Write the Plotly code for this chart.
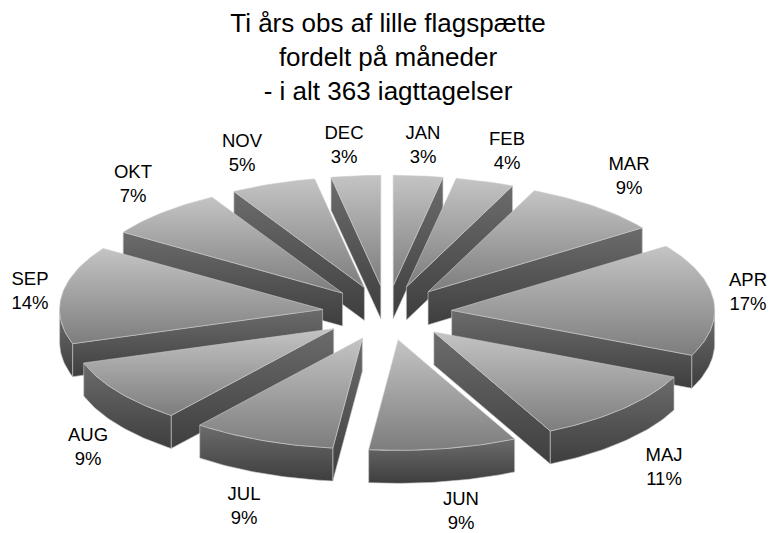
import math
import plotly.graph_objects as go

months = ["JAN", "FEB", "MAR", "APR", "MAJ", "JUN", "JUL", "AUG", "SEP", "OKT", "NOV", "DEC"]
counts = [11, 13, 31, 60, 40, 33, 32, 34, 52, 27, 19, 11]
title_lines = ["Ti års obs af lille flagspætte", "fordelt på måneder", "- i alt 363 iagttagelser"]

# label centres (pixels) - text placement only
label_x = [423, 507, 629, 748, 664, 461, 244, 88, 30, 133, 242, 344]
label_y = [146, 152, 177, 293, 468, 512, 507, 448, 292, 185, 154, 146]

# projection of the tilted pie onto the page (pixels)
CX, CY, RADIUS, EXPLODE, TILT, DEPTH = 387, 313, 263, 65, 0.42, 33
TOP_SCALE = [[0, "#7d7d7d"], [1, "#c4c4c4"]]
WALL_SCALE = [[0, "#3e3e3e"], [1, "#6c6c6c"]]
EDGE = "#c9c9c9"


def project(theta, r, off):
    return (CX + off[0] + r * math.sin(theta), CY + off[1] - r * TILT * math.cos(theta))


def face(pts, scale, line_color=EDGE, line_width=0.6):
    xs = [p[0] for p in pts] + [pts[0][0]]
    ys = [p[1] for p in pts] + [pts[0][1]]
    return go.Scatter(
        x=xs, y=ys, mode="lines", fill="toself",
        line=dict(color=line_color, width=line_width),
        fillgradient=dict(type="vertical", colorscale=scale),
        hoverinfo="skip", showlegend=False,
    )


total = sum(counts)
slices = []
acc = 0
for m, c in zip(months, counts):
    a0 = 2 * math.pi * acc / total
    acc += c
    a1 = 2 * math.pi * acc / total
    slices.append((m, c, a0, a1))

fig = go.Figure()
# painter's order: back to front
for m, c, a0, a1 in sorted(slices, key=lambda s: -math.cos((s[2] + s[3]) / 2)):
    mid = (a0 + a1) / 2
    off = (EXPLODE * math.sin(mid), -EXPLODE * TILT * math.cos(mid))
    n = max(4, int(math.degrees(a1 - a0)))
    angs = [a0 + (a1 - a0) * i / n for i in range(n + 1)]
    tip = project(0, 0, off)
    down = lambda p: (p[0], p[1] + DEPTH)
    # radial walls facing the viewer
    if 0 < a1 < math.pi:
        o = project(a1, RADIUS, off)
        fig.add_trace(face([tip, o, down(o), down(tip)], WALL_SCALE))
    if math.pi < a0 < 2 * math.pi:
        o = project(a0, RADIUS, off)
        fig.add_trace(face([tip, o, down(o), down(tip)], WALL_SCALE))
    # outer rim, front part only
    rim = [t for t in angs if math.cos(t) < 0]
    if len(rim) >= 2:
        upper = [project(t, RADIUS, off) for t in rim]
        lower = [down(p) for p in reversed(upper)]
        fig.add_trace(face(upper + lower, WALL_SCALE))
    # top surface
    top = [tip] + [project(t, RADIUS, off) for t in angs]
    fig.add_trace(face(top, TOP_SCALE))

labels = [f"{m}<br>{round(100 * c / total)}%" for m, c in zip(months, counts)]
fig.add_trace(go.Scatter(
    x=label_x, y=label_y, mode="text", text=labels, textposition="middle center",
    textfont=dict(family="Liberation Sans", size=18.5, color="black"),
    hoverinfo="skip", showlegend=False, cliponaxis=False,
))

fig.update_layout(
    width=769, height=533, autosize=False,
    margin=dict(l=0, r=0, t=0, b=0),
    paper_bgcolor="white", plot_bgcolor="white",
    title=dict(
        text="<br>".join(title_lines),
        font=dict(family="Liberation Sans", size=26, color="black"),
        x=388 / 769, xanchor="center", y=1 - 32 / 533, yanchor="top",
    ),
    xaxis=dict(range=[0, 769], visible=False, fixedrange=True),
    yaxis=dict(range=[533, 0], visible=False, fixedrange=True),
)
fig.write_html(
    "out.html",
    config={"displayModeBar": False},
    post_script="document.body.style.margin='0';document.body.style.overflow='hidden';",
)
